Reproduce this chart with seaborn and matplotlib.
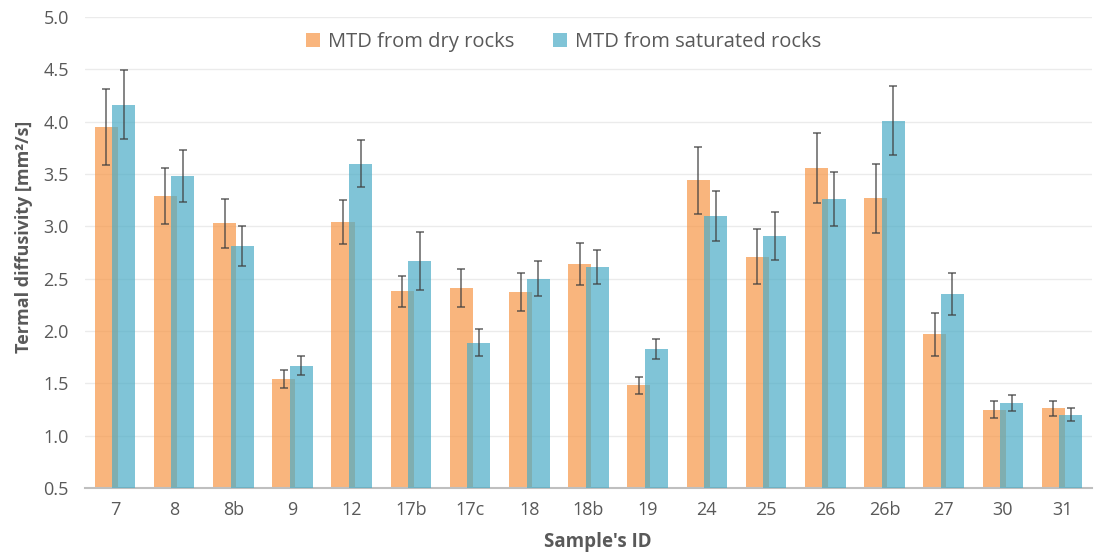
import numpy as np
import pandas as pd
import matplotlib
matplotlib.use("Agg")
import matplotlib.pyplot as plt
from matplotlib.patches import Patch
import seaborn as sns

# Sample identifiers
samples = ["7", "8", "8b", "9", "12", "17b", "17c", "18", "18b", "19",
           "24", "25", "26", "26b", "27", "30", "31"]

# Mean thermal diffusivity (mm²/s)
dry_mean = [3.95, 3.29, 3.03, 1.545, 3.04, 2.38, 2.41, 2.37, 2.64, 1.48,
            3.44, 2.71, 3.56, 3.27, 1.97, 1.25, 1.26]
sat_mean = [4.16, 3.48, 2.81, 1.67, 3.60, 2.67, 1.89, 2.50, 2.61, 1.83,
            3.10, 2.91, 3.26, 4.01, 2.35, 1.31, 1.20]

# Uncertainty (± mm²/s)
dry_err = [0.36, 0.265, 0.235, 0.085, 0.21, 0.15, 0.185, 0.18, 0.20, 0.083,
           0.32, 0.26, 0.335, 0.33, 0.205, 0.08, 0.07]
sat_err = [0.33, 0.245, 0.19, 0.09, 0.22, 0.275, 0.125, 0.165, 0.165, 0.097,
           0.24, 0.23, 0.26, 0.33, 0.20, 0.077, 0.064]

series_names = ["MTD from dry rocks", "MTD from saturated rocks"]

sns.set_theme(style="white")
plt.rcParams["font.family"] = ["Open Sans", "DejaVu Sans"]

ORANGE = "#F79646"
BLUE = "#4BACC6"
ALPHA = 0.7
TEXT = "#595959"

fig = plt.figure(figsize=(10.99, 5.53), dpi=100)
ax = fig.add_axes([0.0777, 0.1175, 0.9156, 0.8518])

idx = np.arange(len(samples))
offset = 0.148
bar_w = 0.39

df_dry = pd.DataFrame({"pos": idx - offset, "val": dry_mean})
df_sat = pd.DataFrame({"pos": idx + offset, "val": sat_mean})

sns.barplot(data=df_dry, x="pos", y="val", native_scale=True, width=bar_w,
            color=ORANGE, alpha=ALPHA, saturation=1, errorbar=None,
            linewidth=0, ax=ax, zorder=2)
sns.barplot(data=df_sat, x="pos", y="val", native_scale=True, width=bar_w,
            color=BLUE, alpha=ALPHA, saturation=1, errorbar=None,
            linewidth=0, ax=ax, zorder=3)

for d, means, errs in ((df_dry, dry_mean, dry_err), (df_sat, sat_mean, sat_err)):
    ax.errorbar(d["pos"], means, yerr=errs, fmt="none", ecolor="#404040",
                alpha=0.75, elinewidth=1.2, capsize=2.8, capthick=1.2, zorder=4)

ax.set_xlim(-0.5, len(samples) - 0.5)
ax.set_ylim(0.5, 5.0)
yt = np.arange(0.5, 5.01, 0.5)
ax.set_yticks(yt)
ax.set_yticklabels([f"{v:.1f}" for v in yt])
ax.set_xticks(idx)
ax.set_xticklabels(samples)

ax.yaxis.grid(True, color="#EBEBEB", linewidth=1.0, zorder=0)
ax.xaxis.grid(False)
ax.set_axisbelow(True)
for side in ("left", "right", "top"):
    ax.spines[side].set_visible(False)
ax.spines["bottom"].set_color("#BFBFBF")
ax.spines["bottom"].set_linewidth(1.5)
ax.tick_params(axis="both", length=0, labelsize=13, colors=TEXT)
ax.tick_params(axis="x", pad=9)
ax.tick_params(axis="y", pad=12)

ax.set_xlabel("Sample's ID", fontsize=13.5, fontweight="bold", color=TEXT)
ax.set_ylabel("Termal diffusivity [mm²/s]", fontsize=13, fontweight="bold",
              color=TEXT)
ax.xaxis.set_label_coords(0.509, -0.093)
ax.yaxis.set_label_coords(-0.052, 0.533)

handles = [Patch(facecolor=ORANGE, alpha=ALPHA, edgecolor="none"),
           Patch(facecolor=BLUE, alpha=ALPHA, edgecolor="none")]
fig.legend(handles, series_names, loc="center", bbox_to_anchor=(0.513, 0.924),
           ncol=2, frameon=False, fontsize=14.5, handlelength=0.7,
           handleheight=0.7, handletextpad=0.4, columnspacing=1.9,
           labelcolor=TEXT)

fig.savefig("out.png", dpi=100)
